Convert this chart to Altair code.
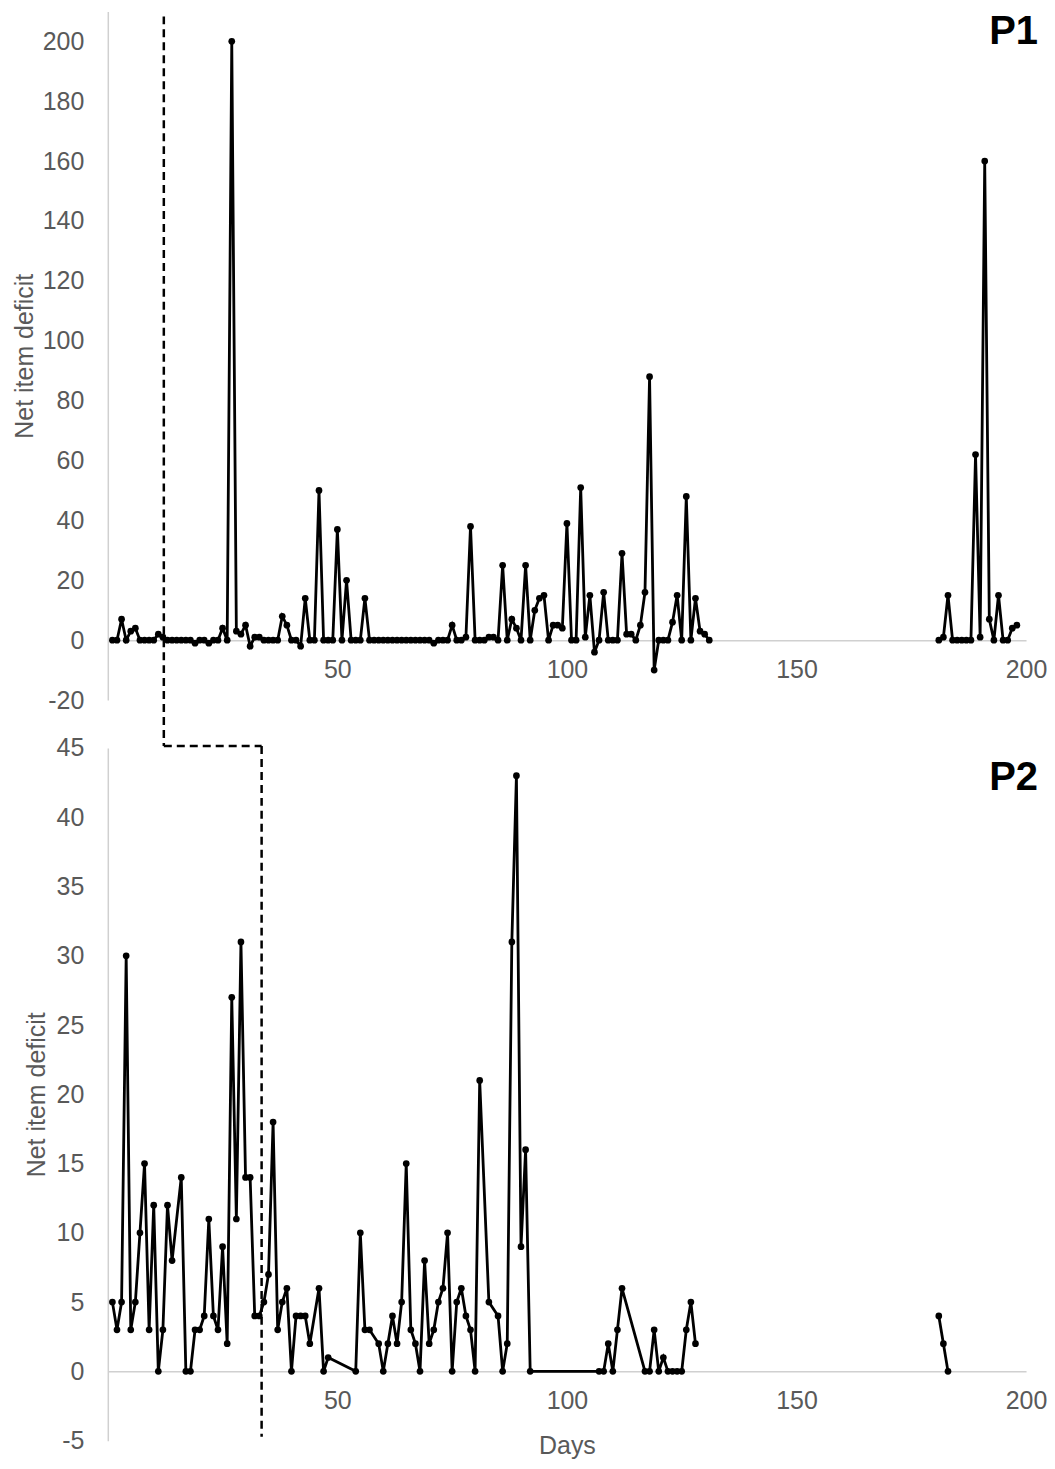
import altair as alt
import pandas as pd

# ---------------- data ----------------
# P1: days 1..131, then days 181..198
p1_days_a = list(range(1, 132))
p1_vals_a = [
    0, 0, 7, 0, 3, 4, 0, 0, 0, 0,
    2, 1, 0, 0, 0, 0, 0, 0, -1, 0,
    0, -1, 0, 0, 4, 0, 200, 3, 2, 5,
    -2, 1, 1, 0, 0, 0, 0, 8, 5, 0,
    0, -2, 14, 0, 0, 50, 0, 0, 0, 37,
    0, 20, 0, 0, 0, 14, 0, 0, 0, 0,
    0, 0, 0, 0, 0, 0, 0, 0, 0, 0,
    -1, 0, 0, 0, 5, 0, 0, 1, 38, 0,
    0, 0, 1, 1, 0, 25, 0, 7, 4, 0,
    25, 0, 10, 14, 15, 0, 5, 5, 4, 39,
    0, 0, 51, 1, 15, -4, 0, 16, 0, 0,
    0, 29, 2, 2, 0, 5, 16, 88, -10, 0,
    0, 0, 6, 15, 0, 48, 0, 14, 3, 2,
    0,
]
p1_days_b = list(range(181, 199))
p1_vals_b = [0, 1, 15, 0, 0, 0, 0, 0, 62, 1, 160, 7, 0, 15, 0, 0, 4, 5]

p2_days = [
    1, 2, 3, 4, 5, 6, 7, 8, 9, 10, 11, 12, 13, 14, 16, 17, 18, 19, 20, 21,
    22, 23, 24, 25, 26, 27, 28, 29, 30, 31, 32, 33, 34, 35, 36, 37, 38, 39, 40, 41,
    42, 43, 44, 46, 47, 48, 54, 55, 56, 57, 59, 60, 61, 62, 63, 64, 65, 66, 67, 68,
    69, 70, 71, 72, 73, 74, 75, 76, 77, 78, 79, 80, 81, 83, 85, 86, 87, 88, 89, 90,
    91, 92, 107, 108, 109, 110, 111, 112, 117, 118, 119, 120, 121, 122, 123, 124, 125, 126, 127, 128,
    181, 182, 183,
]
p2_vals = [
    5, 3, 5, 30, 3, 5, 10, 15, 3, 12, 0, 3, 12, 8, 14, 0, 0, 3, 3, 4,
    11, 4, 3, 9, 2, 27, 11, 31, 14, 14, 4, 4, 5, 7, 18, 3, 5, 6, 0, 4,
    4, 4, 2, 6, 0, 1, 0, 10, 3, 3, 2, 0, 2, 4, 2, 5, 15, 3, 2, 0,
    8, 2, 3, 5, 6, 10, 0, 5, 6, 4, 3, 0, 21, 5, 4, 0, 2, 31, 43, 9,
    16, 0, 0, 0, 2, 0, 3, 6, 0, 0, 3, 0, 1, 0, 0, 0, 0, 3, 5, 2,
    4, 2, 0,
]

x_ticks = [50, 100, 150, 200]
p1_yticks = list(range(-20, 201, 20))
p2_yticks = list(range(-5, 46, 5))
p1_ydomain = [-20, 210]
p2_ydomain = [-5, 45]
divider_day_p1 = 12.2
divider_day_p2 = 33.5

# ---------------- style ----------------
FONT = "Arial, 'Liberation Sans', sans-serif"
GREY = "#595959"
AXIS_LINE = "#d0d0d0"
W = 920
H1 = 690
H2 = 694


def make_df(days, vals):
    return pd.DataFrame({
        "day": days,
        "value": vals,
        "seg": [0 if d < 150 else 1 for d in days],
    })


df1 = make_df(p1_days_a + p1_days_b, p1_vals_a + p1_vals_b)
df2 = make_df(p2_days, p2_vals)


def panel(df, ydom, yticks, height, label, title_x, show_xtitle, rules):
    zero_offset = -(0 - ydom[0]) / (ydom[1] - ydom[0]) * height
    xaxis_kw = dict(
        values=x_ticks, offset=zero_offset, ticks=False, tickSize=0, grid=False,
        domainColor=AXIS_LINE, domainWidth=1.5, labelFontSize=25, labelColor=GREY,
        labelFont=FONT, labelPadding=17, labelFlush=False, labelOverlap=False,
    )
    if show_xtitle:
        xaxis_kw.update(title="Days", titleFontSize=25, titleColor=GREY, titleFont=FONT,
                        titleFontWeight="normal", titleY=74, titleBaseline="middle")
    else:
        xaxis_kw.update(title="")
    x = alt.X("day:Q", scale=alt.Scale(domain=[0, 200], nice=False, zero=False),
              axis=alt.Axis(**xaxis_kw))
    y = alt.Y("value:Q", scale=alt.Scale(domain=ydom, nice=False, zero=False),
              axis=alt.Axis(values=yticks, title="Net item deficit", ticks=False, tickSize=0,
                            grid=False, domainColor=AXIS_LINE, domainWidth=1.5,
                            labelFontSize=25, labelColor=GREY, labelFont=FONT, labelPadding=24,
                            labelExpr="'' + datum.value",
                            titleFontSize=25, titleColor=GREY, titleFont=FONT,
                            titleFontWeight="normal", titleX=title_x, titleY=height / 2,
                            titleBaseline="middle", titleAlign="center"))
    base = alt.Chart(df)
    line = base.mark_line(color="black", strokeWidth=2.8).encode(x=x, y=y, detail="seg:N")
    pts = base.mark_circle(color="black", size=45, opacity=1).encode(x=x, y=y)
    layers = [line, pts] + rules
    txt = alt.Chart(pd.DataFrame({"t": [label]})).mark_text(
        font=FONT, fontSize=40, fontWeight="bold", color="black", align="right", baseline="middle"
    ).encode(x=alt.value(W + 12), y=alt.value(21 if label == "P1" else 30), text="t:N")
    layers.append(txt)
    return alt.layer(*layers).properties(width=W, height=height)


dash = dict(color="black", strokeWidth=2.5, strokeDash=[8, 5])

r1 = alt.Chart(pd.DataFrame({"d": [divider_day_p1]})).mark_rule(**dash).encode(
    x=alt.X("d:Q"), y=alt.value(5), y2=alt.value(H1 + 46))
r2h = alt.Chart(pd.DataFrame({"d": [divider_day_p1], "d2": [divider_day_p2]})).mark_rule(**dash).encode(
    x=alt.X("d:Q"), x2="d2:Q", y=alt.value(-2))
r2v = alt.Chart(pd.DataFrame({"d": [divider_day_p2]})).mark_rule(**dash).encode(
    x=alt.X("d:Q"), y=alt.value(-2), y2=alt.value(H2 - 4))

p1 = panel(df1, p1_ydomain, p1_yticks, H1, "P1", -83, False, [r1])
p2 = panel(df2, p2_ydomain, p2_yticks, H2, "P2", -71, True, [r2h, r2v])

chart = alt.vconcat(p1, p2, spacing=48, bounds="flush").configure_view(stroke=None).properties(
    padding={"top": 2, "left": 5, "right": 0, "bottom": 0}
)

chart.save("out.html", embed_options={"renderer": "svg", "actions": False})
